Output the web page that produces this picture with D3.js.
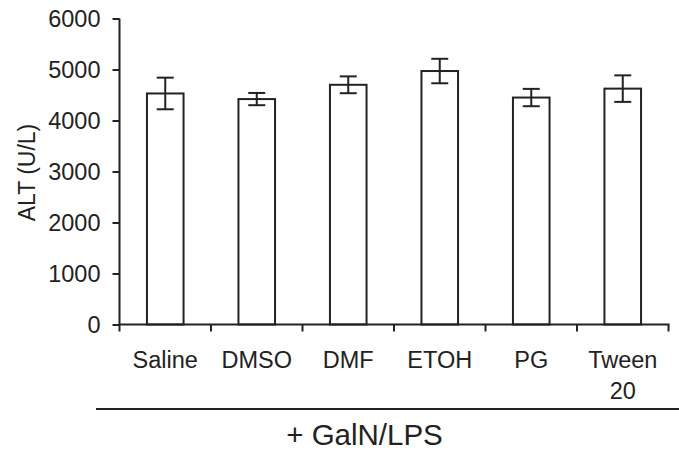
<!DOCTYPE html>
<html>
<head>
<meta charset="utf-8">
<script src="https://cdn.jsdelivr.net/npm/d3@7"></script>
<style>
  body { margin: 0; background: #fff; }
  text { font-family: "Liberation Sans", Arial, sans-serif; fill: #222; }
</style>
</head>
<body>
<div id="chart"></div>
<script>
var categories = ["Saline", "DMSO", "DMF", "ETOH", "PG", "Tween 20"];
var altMeans = [4530, 4420, 4700, 4970, 4450, 4625];
var altErrors = [310, 120, 165, 240, 170, 260];
var yTicks = [0, 1000, 2000, 3000, 4000, 5000, 6000];

function drawChart() {
  var width = 679, height = 451;
  var plotLeft = 119.5, plotRight = 668.5, plotTop = 18.5, plotBottom = 324.5;
  var ink = "#222";

  var svg = d3.select("#chart").append("svg")
    .attr("width", width)
    .attr("height", height);

  var x = d3.scaleBand()
    .domain(categories)
    .range([plotLeft, plotRight])
    .paddingInner(0.6)
    .paddingOuter(0.3);

  var y = d3.scaleLinear()
    .domain([0, 6000])
    .range([plotBottom, plotTop]);

  // bars
  svg.selectAll("rect.bar")
    .data(categories)
    .enter().append("rect")
    .attr("class", "bar")
    .attr("x", function(d) { return x(d); })
    .attr("y", function(d, i) { return y(altMeans[i]); })
    .attr("width", x.bandwidth())
    .attr("height", function(d, i) { return plotBottom - y(altMeans[i]); })
    .style("fill", "#fff")
    .style("stroke", ink)
    .style("stroke-width", 2);

  // error bars
  var capHalf = 8.5;
  var err = svg.selectAll("g.err")
    .data(categories)
    .enter().append("g")
    .attr("class", "err")
    .attr("transform", function(d) { return "translate(" + (x(d) + x.bandwidth() / 2) + ",0)"; })
    .style("stroke", ink)
    .style("stroke-width", 2);

  err.append("line")
    .attr("y1", function(d, i) { return y(altMeans[i] + altErrors[i]); })
    .attr("y2", function(d, i) { return y(altMeans[i] - altErrors[i]); });
  err.append("line")
    .attr("x1", -capHalf).attr("x2", capHalf)
    .attr("y1", function(d, i) { return y(altMeans[i] + altErrors[i]); })
    .attr("y2", function(d, i) { return y(altMeans[i] + altErrors[i]); });
  err.append("line")
    .attr("x1", -capHalf).attr("x2", capHalf)
    .attr("y1", function(d, i) { return y(altMeans[i] - altErrors[i]); })
    .attr("y2", function(d, i) { return y(altMeans[i] - altErrors[i]); });

  // y axis
  var yAxis = svg.append("g")
    .attr("transform", "translate(" + plotLeft + ",0)")
    .call(d3.axisLeft(y).tickValues(yTicks).tickSize(7).tickPadding(12).tickFormat(d3.format("d")));
  yAxis.attr("font-size", null).attr("font-family", null);
  yAxis.select(".domain").attr("d", "M0," + plotTop + "V" + plotBottom);
  yAxis.selectAll("line, path").style("stroke", ink).style("stroke-width", 2);
  yAxis.selectAll("text")
    .style("font-size", "23.5px")
    .style("fill", ink)
    .attr("dy", "0.36em");

  // x axis with ticks on category boundaries
  var step = x.step();
  var bounds = d3.range(categories.length + 1).map(function(i) { return plotLeft + i * step; });
  var xAxis = svg.append("g").style("stroke", ink).style("stroke-width", 2);
  xAxis.append("line")
    .attr("x1", plotLeft - 1).attr("x2", plotRight + 1)
    .attr("y1", plotBottom).attr("y2", plotBottom);
  xAxis.selectAll("line.tick")
    .data(bounds)
    .enter().append("line")
    .attr("class", "tick")
    .attr("x1", function(d) { return d; }).attr("x2", function(d) { return d; })
    .attr("y1", plotBottom).attr("y2", plotBottom + 7);

  // category labels
  var labels = svg.selectAll("text.cat")
    .data(categories)
    .enter().append("text")
    .attr("class", "cat")
    .attr("x", function(d) { return x(d) + x.bandwidth() / 2; })
    .attr("y", 368)
    .attr("text-anchor", "middle")
    .style("font-size", "23.5px");
  labels.each(function(d) {
    var parts = d === "Tween 20" ? ["Tween", "20"] : [d];
    var t = d3.select(this);
    parts.forEach(function(p, j) {
      t.append("tspan")
        .attr("x", t.attr("x"))
        .attr("dy", j === 0 ? 0 : 30.5)
        .text(p);
    });
  });

  // group rule and label
  svg.append("line")
    .attr("x1", 96).attr("x2", 679)
    .attr("y1", 409).attr("y2", 409)
    .style("stroke", ink).style("stroke-width", 2);

  svg.append("text")
    .attr("x", 364.5)
    .attr("y", 445)
    .attr("text-anchor", "middle")
    .style("font-size", "29.5px")
    .text("+ GalN/LPS");

  // y label
  svg.append("text")
    .attr("transform", "translate(35," + ((plotTop + plotBottom) / 2 + 1) + ") rotate(-90)")
    .attr("text-anchor", "middle")
    .style("font-size", "23px")
    .text("ALT (U/L)");
}

drawChart();
</script>
</body>
</html>
